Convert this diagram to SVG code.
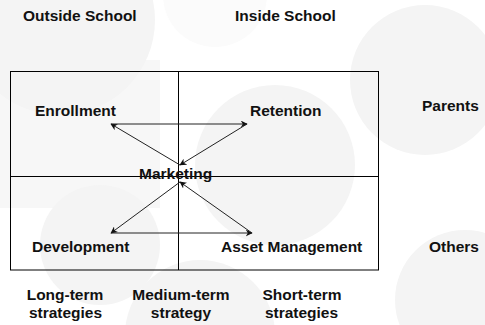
<svg xmlns="http://www.w3.org/2000/svg" width="485" height="325" viewBox="0 0 485 325">
  <style>
    .lbl { font-family: "Liberation Sans", Arial, sans-serif; font-weight: bold; font-size: 15.5px; fill: #111; }
    .mid { text-anchor: middle; }
    .grid { fill: none; stroke: #000; stroke-width: 1; }
    .flow { fill: none; stroke: #222; stroke-width: 1; marker-end: url(#head); }
    .bg { fill: #f4f4f4; }
  </style>
  <defs>
    <marker id="head" viewBox="0 0 10 10" refX="9" refY="5" markerWidth="7" markerHeight="7" markerUnits="userSpaceOnUse" orient="auto">
      <path d="M0,0 L10,5 L0,10 L3,5 Z" fill="#111"/>
    </marker>
  </defs>

  <!-- page backdrop with faint decorative discs -->
  <rect width="485" height="325" fill="#fff"/>
  <g id="backdrop">
    <circle class="bg" cx="60" cy="20" r="95"/>
    <rect class="bg" x="0" y="60" width="160" height="148" opacity="0.7"/>
    <circle cx="215" cy="-5" r="52" fill="#fbfbfb"/>
    <circle class="bg" cx="275" cy="165" r="80"/>
    <circle class="bg" cx="100" cy="245" r="60"/>
    <circle class="bg" cx="200" cy="335" r="75"/>
    <circle class="bg" cx="425" cy="80" r="75"/>
    <circle class="bg" cx="465" cy="300" r="70"/>
  </g>

  <!-- column headings -->
  <g id="outside-school"><text class="lbl" x="23" y="20.5">Outside School</text></g>
  <g id="inside-school"><text class="lbl" x="235" y="20.5">Inside School</text></g>

  <!-- quadrant frame -->
  <g id="frame">
    <rect class="grid" x="10.5" y="71.5" width="368" height="198.5"/>
    <line class="grid" x1="178.5" y1="71.5" x2="178.5" y2="270"/>
    <line class="grid" x1="10.5" y1="176.5" x2="378.5" y2="176.5"/>
  </g>

  <!-- cycle arrows -->
  <g id="connectors">
    <line class="flow" x1="180" y1="165" x2="111" y2="124"/>
    <line class="flow" x1="111" y1="124" x2="247" y2="124"/>
    <line class="flow" x1="247" y1="124" x2="180" y2="165"/>
    <line class="flow" x1="180" y1="182" x2="111" y2="233"/>
    <line class="flow" x1="111" y1="233" x2="252" y2="233"/>
    <line class="flow" x1="252" y1="233" x2="180" y2="182"/>
  </g>

  <!-- quadrant nodes -->
  <g id="enrollment"><text class="lbl" x="35" y="116">Enrollment</text></g>
  <g id="retention"><text class="lbl" x="250" y="116">Retention</text></g>
  <g id="marketing"><text class="lbl" x="139" y="179">Marketing</text></g>
  <g id="development"><text class="lbl" x="32" y="252">Development</text></g>
  <g id="asset-management"><text class="lbl" x="221" y="252">Asset Management</text></g>

  <!-- side labels -->
  <g id="parents"><text class="lbl" x="422" y="111">Parents</text></g>
  <g id="others"><text class="lbl" x="429" y="252">Others</text></g>

  <!-- horizon labels -->
  <g id="long-term">
    <text class="lbl mid" x="65" y="299.5">Long-term</text>
    <text class="lbl mid" x="65.5" y="317.5">strategies</text>
  </g>
  <g id="medium-term">
    <text class="lbl mid" x="181" y="299.5">Medium-term</text>
    <text class="lbl mid" x="181" y="317.5">strategy</text>
  </g>
  <g id="short-term">
    <text class="lbl mid" x="302" y="299.5">Short-term</text>
    <text class="lbl mid" x="301.5" y="317.5">strategies</text>
  </g>
</svg>
